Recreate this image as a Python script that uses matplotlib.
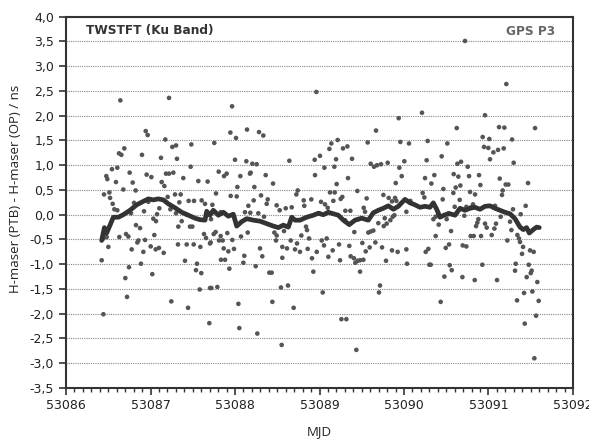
"""TWSTFT (Ku band) vs GPS P3: PTB - OP H-maser difference over MJD 53086-53092."""

import matplotlib
matplotlib.use("Agg")
import matplotlib.pyplot as plt
from matplotlib.ticker import FuncFormatter, MultipleLocator

# individual TWSTFT sessions (MJD, ns)
twstft_mjd = [
    53086.643, 53087.219, 53086.943, 53086.966, 53087.175, 53087.258, 53087.302, 53087.483,
    53086.690, 53086.627, 53086.655, 53086.899, 53087.124, 53087.313, 53087.475, 53086.544,
    53086.607, 53086.477, 53086.489, 53086.753, 53086.954, 53087.010, 53087.183, 53087.219,
    53087.270, 53087.388, 53086.591, 53086.789, 53087.132, 53087.164, 53087.566, 53087.676,
    53086.450, 53086.513, 53086.678, 53086.824, 53086.521, 53086.552, 53086.572, 53086.607,
    53087.203, 53087.290, 53087.357, 53087.451, 53087.515, 53087.605, 53087.645, 53086.974,
    53086.805, 53087.341, 53086.769, 53086.923, 53087.077, 53087.104, 53087.033, 53087.065,
    53087.235, 53087.302, 53087.369, 53087.428, 53087.329, 53087.467, 53087.495, 53086.828,
    53086.876, 53086.631, 53086.710, 53086.738, 53087.045, 53087.633, 53087.657, 53086.442,
    53086.481, 53086.856, 53086.844, 53086.935, 53086.501, 53086.777, 53086.915, 53087.002,
    53087.061, 53087.100, 53087.156, 53087.325, 53087.428, 53087.511, 53087.590, 53087.704,
    53086.422, 53086.745, 53086.887, 53087.408, 53087.550, 53087.538, 53087.601, 53086.702,
    53087.021, 53087.582, 53087.704, 53086.722, 53087.246, 53087.444, 53086.442, 53087.696,
    # day 53088
    53088.963, 53087.965, 53087.945, 53088.012, 53088.142, 53088.284, 53088.335, 53087.755,
    53088.000, 53088.134, 53088.205, 53088.256, 53088.643, 53088.943, 53088.185, 53088.177,
    53087.807, 53087.870, 53087.901, 53088.063, 53088.363, 53088.450, 53087.775, 53088.028,
    53088.229, 53087.949, 53088.020, 53088.308, 53088.742, 53088.726, 53088.221, 53088.387,
    53088.375, 53088.493, 53088.529, 53088.600, 53088.671, 53088.813, 53088.820, 53088.903,
    53088.158, 53087.732, 53087.830, 53088.118, 53088.181, 53088.276, 53088.343, 53087.716,
    53087.748, 53087.771, 53087.712, 53087.830, 53087.811, 53087.854, 53087.909, 53087.968,
    53088.071, 53088.150, 53088.466, 53088.493, 53088.485, 53088.580, 53088.785, 53088.840,
    53088.852, 53088.876, 53087.866, 53087.921, 53087.988, 53088.110, 53088.296, 53088.323,
    53088.560, 53088.615, 53088.659, 53088.710, 53088.769, 53088.734, 53088.860, 53088.911,
    53087.834, 53087.882, 53088.099, 53087.933, 53088.245, 53088.406, 53088.434, 53088.560,
    53088.927, 53087.720, 53087.791, 53088.544, 53088.627, 53088.040, 53088.442, 53088.694,
    53088.051, 53088.264, 53088.552,
    # day 53089
    53090.213, 53089.937, 53089.669, 53089.570, 53089.957, 53090.059, 53090.280, 53089.215,
    53089.140, 53089.117, 53089.278, 53089.330, 53089.006, 53089.058, 53089.176, 53089.196,
    53089.385, 53089.606, 53089.645, 53089.681, 53089.728, 53089.807, 53089.945, 53090.004,
    53090.268, 53088.947, 53089.337, 53089.203, 53089.973, 53089.902, 53090.249, 53089.124,
    53089.180, 53089.448, 53089.756, 53089.819, 53089.858, 53089.894, 53089.910, 53089.251,
    53089.270, 53089.164, 53089.558, 53090.221, 53090.241, 53089.018, 53089.065, 53089.097,
    53088.994, 53089.306, 53089.365, 53089.523, 53089.539, 53090.075, 53090.028, 53089.302,
    53089.460, 53089.696, 53089.772, 53089.795, 53089.760, 53089.839, 53089.866, 53089.886,
    53089.412, 53089.578, 53089.606, 53089.637, 53089.026, 53089.085, 53088.967, 53089.053,
    53089.231, 53089.353, 53089.507, 53089.661, 53089.740, 53089.594, 53089.547, 53089.858,
    53089.925, 53090.028, 53090.257, 53090.288, 53089.105, 53089.156, 53089.243, 53089.369,
    53089.408, 53089.424, 53089.452, 53089.480, 53089.519, 53089.787, 53090.036, 53090.300,
    53089.480, 53089.038, 53089.716, 53089.704, 53089.259, 53089.318, 53089.436,
    # day 53090-53091
    53090.722, 53091.211, 53090.959, 53090.624, 53091.125, 53091.188, 53091.551, 53090.931,
    53091.010, 53091.279, 53090.513, 53090.947, 53090.998, 53091.058, 53091.113, 53091.180,
    53091.018, 53090.446, 53090.632, 53090.675, 53090.754, 53091.298, 53090.359, 53090.588,
    53090.643, 53090.770, 53090.888, 53091.133, 53090.324, 53090.667, 53090.904, 53091.204,
    53091.235, 53091.468, 53090.466, 53090.584, 53090.612, 53091.168, 53091.160, 53090.782,
    53090.841, 53090.458, 53090.659, 53090.600, 53090.738, 53090.793, 53090.817, 53091.077,
    53091.290, 53091.440, 53091.381, 53091.144, 53090.348, 53090.375, 53090.407, 53090.525,
    53090.505, 53090.714, 53090.880, 53090.868, 53090.853, 53090.959, 53090.979, 53091.089,
    53091.070, 53091.255, 53090.411, 53090.557, 53091.271, 53090.375, 53090.789, 53090.825,
    53090.912, 53091.038, 53091.342, 53091.361, 53091.373, 53091.223, 53090.533, 53090.494,
    53090.695, 53090.738, 53091.409, 53091.397, 53091.492, 53091.535, 53090.316, 53090.541,
    53090.565, 53090.927, 53091.322, 53091.314, 53091.476, 53091.511, 53091.500, 53091.452,
    53090.478, 53090.691, 53090.837, 53091.101, 53091.578, 53091.519, 53091.421, 53091.338,
    53091.594, 53090.434, 53091.563, 53091.429, 53091.543,
]
twstft_ns = [
    2.31, 2.36, 1.69, 1.61, 1.52, 1.37, 1.40, 1.42,
    1.34, 1.24, 1.21, 1.21, 1.15, 1.13, 0.97, 0.92,
    0.95, 0.78, 0.72, 0.85, 0.81, 0.76, 0.83, 0.83,
    0.85, 0.74, 0.66, 0.65, 0.66, 0.58, 0.68, 0.67,
    0.41, 0.45, 0.51, 0.49, 0.34, 0.22, 0.11, 0.09,
    0.36, 0.41, 0.41, 0.28, 0.28, 0.29, 0.22, 0.26,
    0.24, 0.25, 0.03, 0.07, 0.01, 0.13, -0.08, -0.13,
    0.11, 0.03, -0.13, 0.00, -0.24, -0.24, -0.24, -0.21,
    -0.27, -0.45, -0.39, -0.44, -0.41, -0.39, -0.47, -0.48,
    -0.45, -0.52, -0.56, -0.51, -0.65, -0.70, -0.75, -0.64,
    -0.70, -0.67, -0.77, -0.60, -0.60, -0.60, -0.65, -0.58,
    -0.92, -1.06, -0.99, -0.93, -0.99, -1.12, -1.18, -1.28,
    -1.20, -1.51, -1.48, -1.66, -1.75, -1.88, -2.01, -2.19,
    # day 53088
    2.48, 2.19, 1.66, 1.55, 1.72, 1.67, 1.60, 1.45,
    1.11, 1.08, 1.03, 1.02, 1.09, 1.11, 0.85, 0.83,
    0.87, 0.78, 0.83, 0.78, 0.80, 0.63, 0.43, 0.56,
    0.56, 0.38, 0.37, 0.39, 0.49, 0.41, 0.29, 0.31,
    0.22, 0.19, 0.09, 0.13, 0.15, 0.29, 0.18, 0.31,
    0.18, 0.20, 0.05, 0.05, 0.04, 0.03, -0.04, -0.09,
    -0.39, -0.35, -0.56, -0.43, -0.52, -0.52, -0.37, -0.51,
    -0.44, -0.36, -0.36, -0.42, -0.52, -0.33, -0.42, -0.24,
    -0.31, -0.48, -0.68, -0.74, -0.69, -0.83, -0.68, -0.84,
    -0.65, -0.68, -0.52, -0.70, -0.75, -0.58, -0.69, -0.88,
    -0.91, -0.91, -0.97, -1.09, -1.04, -1.17, -1.17, -0.87,
    -1.15, -1.48, -1.46, -1.47, -1.43, -1.80, -1.76, -1.88,
    -2.29, -2.40, -2.63,
    # day 53089
    2.06, 1.95, 1.70, 1.46, 1.47, 1.44, 1.49, 1.51,
    1.44, 1.33, 1.34, 1.38, 1.19, 0.95, 0.97, 1.12,
    1.13, 1.03, 0.97, 1.00, 1.02, 1.05, 0.95, 1.08,
    1.10, 0.80, 0.74, 0.62, 0.78, 0.64, 0.74, 0.45,
    0.45, 0.48, 0.40, 0.34, 0.27, 0.34, 0.28, 0.32,
    0.36, 0.28, 0.33, 0.44, 0.35, 0.26, 0.21, 0.14,
    0.03, 0.08, 0.08, 0.14, 0.06, 0.28, 0.06, -0.11,
    -0.09, -0.17, -0.07, -0.18, -0.23, -0.11, -0.04, -0.01,
    -0.35, -0.36, -0.34, -0.32, -0.52, -0.48, -0.75, -0.62,
    -0.60, -0.63, -0.57, -0.56, -0.66, -0.66, -0.74, -0.72,
    -0.75, -0.70, -0.75, -0.69, -0.85, -0.72, -0.92, -0.84,
    -0.88, -0.97, -0.93, -0.92, -0.91, -0.93, -0.99, -1.01,
    -1.15, -1.57, -1.43, -1.57, -2.11, -2.11, -2.73,
    # day 53090-53091
    3.51, 2.64, 2.01, 1.75, 1.77, 1.76, 1.75, 1.57,
    1.53, 1.52, 1.44, 1.37, 1.35, 1.26, 1.31, 1.34,
    1.12, 1.18, 1.03, 1.07, 0.97, 1.05, 0.80, 0.82,
    0.77, 0.78, 0.80, 0.73, 0.63, 0.59, 0.60, 0.61,
    0.61, 0.64, 0.52, 0.44, 0.55, 0.49, 0.40, 0.46,
    0.41, 0.31, 0.30, 0.16, 0.16, 0.15, 0.21, 0.18,
    0.11, 0.18, 0.01, -0.04, -0.09, -0.04, -0.01, 0.03,
    -0.09, -0.02, -0.09, -0.16, -0.23, -0.18, -0.26, -0.18,
    -0.28, -0.14, -0.20, -0.33, -0.31, -0.43, -0.43, -0.43,
    -0.43, -0.41, -0.41, -0.48, -0.55, -0.52, -0.60, -0.67,
    -0.62, -0.64, -0.65, -0.79, -0.72, -0.75, -1.01, -1.02,
    -1.12, -1.01, -0.99, -1.13, -1.01, -1.13, -1.18, -1.26,
    -1.25, -1.26, -1.32, -1.32, -1.36, -1.55, -1.58, -1.73,
    -1.74, -1.76, -2.04, -2.20, -2.90,
]

# smoothed curve (moving average of the sessions)
smooth_mjd = [
    53086.422, 53086.454, 53086.481, 53086.521, 53086.560, 53086.619, 53086.678, 53086.757,
    53086.836, 53086.915, 53086.974, 53087.033, 53087.092, 53087.152, 53087.211, 53087.290,
    53087.369, 53087.448, 53087.527, 53087.586, 53087.645, 53087.665, 53087.704, 53087.743,
    53087.803, 53087.862, 53087.921, 53087.980, 53088.020, 53088.079, 53088.138, 53088.217,
    53088.296, 53088.375, 53088.454, 53088.513, 53088.572, 53088.631, 53088.671, 53088.710,
    53088.769, 53088.848, 53088.927, 53088.986, 53089.045, 53089.104, 53089.163, 53089.223,
    53089.282, 53089.353, 53089.420, 53089.499, 53089.578, 53089.637, 53089.696, 53089.755,
    53089.815, 53089.874, 53089.933, 53089.972, 53090.012, 53090.071, 53090.130, 53090.189,
    53090.249, 53090.308, 53090.347, 53090.387, 53090.426, 53090.485, 53090.544, 53090.604,
    53090.663, 53090.722, 53090.781, 53090.840, 53090.899, 53090.959, 53091.018, 53091.077,
    53091.136, 53091.195, 53091.254, 53091.314, 53091.373, 53091.412, 53091.451, 53091.483,
    53091.530, 53091.570, 53091.601,
]
smooth_ns = [
    -0.52, -0.26, -0.37, -0.21, -0.05, -0.05, 0.00, 0.09,
    0.20, 0.27, 0.32, 0.30, 0.32, 0.30, 0.22, 0.14,
    0.05, -0.01, -0.07, -0.10, -0.11, 0.07, -0.01, 0.09,
    -0.01, 0.05, -0.03, 0.01, -0.23, -0.14, -0.08, -0.11,
    -0.13, -0.18, -0.23, -0.26, -0.21, -0.25, -0.05, -0.11,
    -0.11, -0.05, -0.01, 0.03, 0.00, 0.05, 0.02, -0.01,
    -0.11, -0.20, -0.11, -0.07, -0.11, 0.04, 0.09, 0.13,
    0.18, 0.11, 0.17, 0.24, 0.31, 0.24, 0.20, 0.15,
    0.17, 0.15, 0.24, 0.11, -0.05, 0.00, 0.02, -0.01,
    0.13, 0.09, 0.13, 0.15, 0.11, 0.17, 0.18, 0.13,
    0.09, 0.05, 0.02, -0.08, -0.25, -0.30, -0.26, -0.37,
    -0.30, -0.25, -0.26,
]

DOT = "#555555"
LINE = "#333333"
FRAME = "#333333"

fig = plt.figure(figsize=(5.89, 4.41), dpi=100)
ax = fig.add_axes([0.1121, 0.1202, 0.8607, 0.8419])

ax.scatter(twstft_mjd, twstft_ns, s=11, color=DOT, edgecolors="none", zorder=3)
ax.plot(smooth_mjd, smooth_ns, color=LINE, lw=3.4, solid_joinstyle="round",
        solid_capstyle="round", zorder=4)

ax.set_xlim(53086, 53092)
ax.set_ylim(-3.5, 4.0)
ax.xaxis.set_major_locator(MultipleLocator(1))
ax.xaxis.set_minor_locator(MultipleLocator(0.1))
ax.yaxis.set_major_locator(MultipleLocator(0.5))
ax.xaxis.set_major_formatter(FuncFormatter(lambda v, _: f"{v:.0f}"))
ax.yaxis.set_major_formatter(FuncFormatter(lambda v, _: f"{v:.1f}".replace(".", ",")))

ax.grid(axis="y", color="#888888", lw=0.8, linestyle=(0, (1, 1)), zorder=1)
ax.set_axisbelow(True)

for sp in ax.spines.values():
    sp.set_color(FRAME)
    sp.set_linewidth(1.5)

ax.tick_params(axis="both", which="major", direction="out", length=5, width=1.2,
               color=FRAME, labelsize=9, labelcolor="#222222")
ax.tick_params(axis="x", which="minor", direction="out", length=3, width=1.0, color=FRAME)
ax.tick_params(axis="x", which="major", pad=3)

ax.set_xlabel("MJD", family="Open Sans", fontsize=9.5, color="#222222")
ax.set_ylabel("H-maser (PTB) - H-maser (OP) / ns", family="Open Sans",
              fontsize=9.5, color="#222222")
ax.xaxis.set_label_coords(0.5, -0.10)
ax.yaxis.set_label_coords(-0.087, 0.536)

ax.text(0.04, 0.963, "TWSTFT (Ku Band)", transform=ax.transAxes, fontsize=8.7,
        fontweight="bold", color="#333333", ha="left", va="center")
ax.text(0.965, 0.96, "GPS P3", transform=ax.transAxes, fontsize=8.7,
        fontweight="bold", color="#666666", ha="right", va="center")

fig.savefig("out.png", dpi=100)
